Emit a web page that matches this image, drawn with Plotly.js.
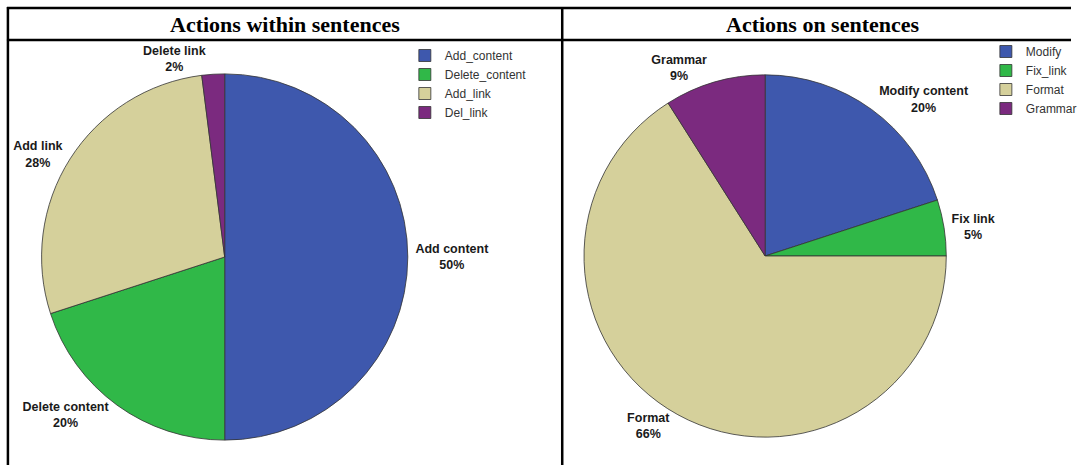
<!DOCTYPE html>
<html><head><meta charset="utf-8">
<script src="https://cdn.plot.ly/plotly-3.0.1.min.js"></script>
<style>html,body{margin:0;padding:0;background:#fff;overflow:hidden;width:1082px;height:465px;}#chart{width:1082px;height:465px;}</style>
</head><body><div id="chart"></div>
<script>
// Data
const leftTitle = "Actions within sentences";
const rightTitle = "Actions on sentences";
const leftLegendNames = ["Add_content", "Delete_content", "Add_link", "Del_link"];
const leftSliceLabels = ["Add content", "Delete content", "Add link", "Delete link"];
const leftValues = [50, 20, 28, 2];
const rightLegendNames = ["Modify", "Fix_link", "Format", "Grammar"];
const rightSliceLabels = ["Modify content", "Fix link", "Format", "Grammar"];
const rightValues = [20, 5, 66, 9];
const colors = ["#3e58ad", "#30b848", "#d5d09b", "#7b2a7f"];

const W = 1082, H = 465;
const px = x => x / W;
const py = y => 1 - y / H;

function pieDomain(cx, cy, r) {
  return {x: [px(cx - r), px(cx + r)], y: [py(cy + r), py(cy - r)]};
}

const textFont = {family: "Liberation Sans, Arial, sans-serif", size: 12.5, color: "#1a1a1a"};

const traces = [
  {
    type: "pie", labels: leftLegendNames, values: leftValues, text: leftSliceLabels,
    sort: false, direction: "clockwise", rotation: 0,
    marker: {colors: colors, line: {color: "#333", width: 0.8}},
    textposition: "outside", texttemplate: "<b>%{text}<br>%{percent:.0%}</b>",
    textfont: textFont, outsidetextfont: textFont,
    hoverinfo: "label+percent",
    domain: pieDomain(227, 257, 185), legend: "legend", showlegend: true
  },
  {
    type: "pie", labels: rightLegendNames, values: rightValues, text: rightSliceLabels,
    sort: false, direction: "clockwise", rotation: 0,
    marker: {colors: colors, line: {color: "#333", width: 0.8}},
    textposition: "outside", texttemplate: "<b>%{text}<br>%{percent:.0%}</b>",
    textfont: textFont, outsidetextfont: textFont,
    hoverinfo: "label+percent",
    domain: pieDomain(773, 256, 183), legend: "legend2", showlegend: true
  }
];

const lineStyle = {color: "#000", width: 2.5};
const shapes = [
  {type: "line", xref: "paper", yref: "paper", x0: px(7), x1: 1, y0: py(8), y1: py(8), line: lineStyle},
  {type: "line", xref: "paper", yref: "paper", x0: px(7), x1: 1, y0: py(40), y1: py(40), line: lineStyle},
  {type: "line", xref: "paper", yref: "paper", x0: px(8), x1: px(8), y0: py(7), y1: 0, line: lineStyle},
  {type: "line", xref: "paper", yref: "paper", x0: px(568), x1: px(568), y0: py(7), y1: 0, line: lineStyle}
];

const titleFont = {family: "Liberation Serif, Times New Roman, serif", size: 22, color: "#000"};
const annotations = [
  {text: "<b>" + leftTitle + "</b>", xref: "paper", yref: "paper", x: px(288), y: py(24), showarrow: false, font: titleFont, xanchor: "center", yanchor: "middle"},
  {text: "<b>" + rightTitle + "</b>", xref: "paper", yref: "paper", x: px(831), y: py(24), showarrow: false, font: titleFont, xanchor: "center", yanchor: "middle"}
];

const legendFont = {family: "Liberation Sans, Arial, sans-serif", size: 12, color: "#333"};
const layout = {
  width: W, height: H,
  margin: {l: 0, r: 0, t: 0, b: 0},
  paper_bgcolor: "#fff", plot_bgcolor: "#fff",
  shapes: shapes, annotations: annotations,
  legend: {x: px(409), y: py(41), xanchor: "left", yanchor: "top", font: legendFont, bgcolor: "rgba(0,0,0,0)", itemwidth: 30, tracegroupgap: 0},
  legend2: {x: px(996), y: py(37), xanchor: "left", yanchor: "top", font: legendFont, bgcolor: "rgba(0,0,0,0)", itemwidth: 30, tracegroupgap: 0},
  showlegend: true
};

Plotly.newPlot("chart", traces, layout, {displayModeBar: false, staticPlot: true});
</script>
</body></html>
